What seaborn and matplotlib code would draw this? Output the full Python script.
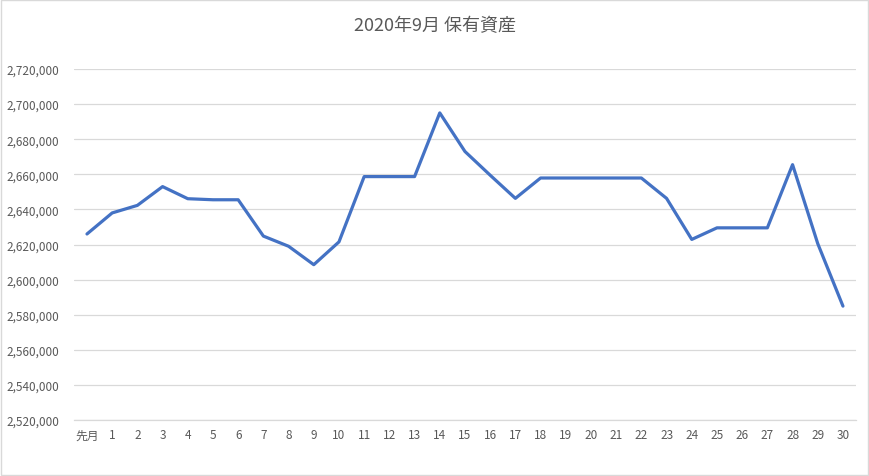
import numpy as np
import pandas as pd
import seaborn as sns
import matplotlib.pyplot as plt
from matplotlib.patches import Rectangle
from matplotlib.ticker import FuncFormatter, MultipleLocator

# 2020年9月 daily holdings
days = ['先月'] + [str(d) for d in range(1, 31)]
assets = [2626000, 2638000, 2642300, 2653000, 2646100, 2645500, 2645500,
          2624800, 2619000, 2608500, 2621500, 2658700, 2658700, 2658700,
          2695000, 2673000, 2659500, 2646300, 2657900, 2657900, 2657900,
          2657900, 2657900, 2646300, 2622900, 2629500, 2629500, 2629500,
          2665500, 2620500, 2584900]

sns.set_theme(style='white')
plt.rcParams['font.family'] = ['Noto Sans CJK JP', 'DejaVu Sans']

df = pd.DataFrame({'day': days, 'assets': assets})

fig = plt.figure(figsize=(8.7, 4.77), dpi=100)
ax = fig.add_axes([0.0855, 0.1174, 0.8979, 0.7358])

sns.lineplot(data=df, x='day', y='assets', sort=False, ax=ax,
             color='#4472C4', linewidth=2.3)

ax.set_ylim(2520000, 2720000)
ax.set_xlim(-0.5, len(days) - 0.5)
ax.yaxis.set_major_locator(MultipleLocator(20000))
ax.yaxis.set_major_formatter(FuncFormatter(lambda v, p: f'{int(v):,}'))
ax.grid(axis='y', color='#D9D9D9', linewidth=0.9)
ax.set_axisbelow(True)
for s in ax.spines.values():
    s.set_visible(False)
# category axis line, same grey as the grid
ax.spines['bottom'].set_visible(True)
ax.spines['bottom'].set_color('#D9D9D9')
ax.spines['bottom'].set_linewidth(0.9)
ax.tick_params(axis='y', length=0, pad=11, labelsize=8.5, labelcolor='#595959')
ax.tick_params(axis='x', length=0, pad=6, labelsize=8.5, labelcolor='#595959')
ax.set_xlabel('')
ax.set_ylabel('')

fig.suptitle('2020年9月 保有資産', y=0.965, fontsize=13, color='#595959')

fig.patches.append(Rectangle((0.001, 0.002), 0.997, 0.996, transform=fig.transFigure,
                             fill=False, edgecolor='#D9D9D9', linewidth=1))

fig.savefig('out.png', dpi=100)
